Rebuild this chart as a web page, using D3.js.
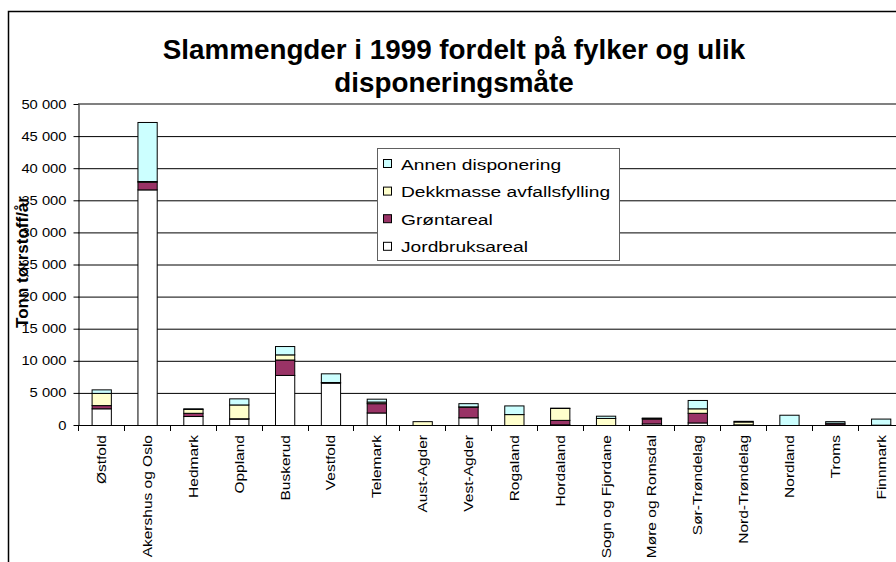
<!DOCTYPE html>
<html>
<head>
<meta charset="utf-8">
<script src="https://cdn.jsdelivr.net/npm/d3@7"></script>
<style>
  html, body { margin: 0; padding: 0; background: #fff; }
  svg { display: block; font-family: "Liberation Sans", Arial, sans-serif; }
</style>
</head>
<body>
<svg id="chart" width="896" height="562"></svg>
<script>
const categories = ["Østfold","Akershus og Oslo","Hedmark","Oppland","Buskerud","Vestfold","Telemark","Aust-Agder","Vest-Agder","Rogaland","Hordaland","Sogn og Fjordane","Møre og Romsdal","Sør-Trøndelag","Nord-Trøndelag","Nordland","Troms","Finnmark"];
const jordbruksareal = [2600,36700,1400,1000,7800,6600,1950,0,1200,0,100,0,250,400,0,0,100,0];
const grontareal     = [500,1200,500,50,2400,100,1450,0,1650,0,700,0,750,1500,100,0,250,0];
const dekkmasse      = [1900,100,600,2150,800,0,250,600,50,1700,1850,1100,100,700,450,0,0,50];
const annen          = [550,9200,100,950,1300,1350,450,0,500,1350,50,350,50,1300,100,1600,250,950];
const seriesNames = ["Jordbruksareal","Grøntareal","Dekkmasse avfallsfylling","Annen disponering"];
const seriesColors = ["#FFFFFF","#993366","#FFFFCC","#CCFFFF"];
const yTicks = [0,5000,10000,15000,20000,25000,30000,35000,40000,45000,50000];
const titleLines = ["Slammengder i 1999 fordelt på fylker og ulik","disponeringsmåte"];
const yTitle = "Tonn tørrstoff/år";

const svg = d3.select("#chart");
const seriesData = [jordbruksareal, grontareal, dekkmasse, annen];
const rows = categories.map((c, i) => {
  const r = {cat: c};
  seriesNames.forEach((s, k) => r[s] = seriesData[k][i]);
  return r;
});
const stacked = d3.stack().keys(seriesNames)(rows);

const x = d3.scaleBand().domain(categories).range([78.3, 903.6]).paddingInner(0.58).paddingOuter(0.29);
const y = d3.scaleLinear().domain([0, 50000]).range([425, 104]);

// outer chart border
svg.append("path").attr("d", "M8.5,562 V11.5 H896").attr("fill", "none").attr("stroke", "#000").attr("stroke-width", 1.5);

// gridlines
svg.append("g").selectAll("line").data(yTicks.filter(d => d > 0 && d < 50000)).join("line")
  .attr("x1", 78).attr("x2", 896).attr("y1", d => y(d) + 0.5).attr("y2", d => y(d) + 0.5)
  .attr("stroke", "#000").attr("stroke-width", 1);
// plot area top border (gray)
svg.append("line").attr("x1", 78).attr("x2", 896).attr("y1", y(50000)).attr("y2", y(50000))
  .attr("stroke", "#808080").attr("stroke-width", 2);

// bars
const gBars = svg.append("g");
stacked.forEach((layer, k) => {
  gBars.append("g").selectAll("rect").data(layer.filter(d => d[1] - d[0] > 0)).join("rect")
    .attr("x", d => x(d.data.cat) + 0.5)
    .attr("width", x.bandwidth())
    .attr("y", d => y(d[1]) + 0.5)
    .attr("height", d => y(d[0]) - y(d[1]))
    .attr("fill", seriesColors[k])
    .attr("stroke", "#000").attr("stroke-width", 1);
});

// y axis
const yAxis = d3.axisLeft(y).tickValues(yTicks).tickSize(5).tickSizeOuter(0).tickPadding(5.2)
  .tickFormat(d => d3.format(",")(d).replace(/,/g, " "));
const gy = svg.append("g").attr("transform", "translate(78.5,0)").call(yAxis);
gy.select(".domain").attr("stroke", "#000");
gy.selectAll(".tick line").attr("stroke", "#000");
gy.selectAll(".tick text").attr("font-size", 12.5).attr("fill", "#000")
  .attr("font-family", "Liberation Sans, Arial, sans-serif")
  .attr("transform", "scale(1.18,1)");

// x axis baseline + boundary ticks
const xAxis = d3.axisBottom(x).tickSize(0).tickFormat("");
const gx = svg.append("g").attr("transform", "translate(0,425.5)").call(xAxis);
gx.select(".domain").attr("d", "M78,0H896").attr("stroke", "#000");
const gap = (x.step() - x.bandwidth()) / 2;
const bounds = categories.map(c => x(c) - gap).concat([x(categories[categories.length - 1]) + x.bandwidth() + gap]);
svg.append("g").selectAll("line").data(bounds.filter(b => b <= 896)).join("line")
  .attr("x1", d => Math.round(d) + 0.5).attr("x2", d => Math.round(d) + 0.5)
  .attr("y1", 425).attr("y2", 431).attr("stroke", "#000");

// x labels
svg.append("g").selectAll("text").data(categories).join("text")
  .attr("transform", d => `translate(${x(d) + x.bandwidth() / 2 + 5},435) rotate(-90) scale(1.24,1)`)
  .attr("text-anchor", "end").attr("font-size", 12.5).attr("fill", "#000")
  .text(d => d);

// y title
svg.append("text").attr("transform", "translate(28,262) rotate(-90)")
  .attr("text-anchor", "middle").attr("font-size", 17).attr("font-weight", "bold").attr("fill", "#000")
  .text(yTitle);

// title
svg.append("g").selectAll("text").data(titleLines).join("text")
  .attr("x", 454).attr("y", (d, i) => 59 + i * 33)
  .attr("text-anchor", "middle").attr("font-size", 27.8).attr("font-weight", "bold").attr("fill", "#000")
  .text(d => d);

// legend
const lg = svg.append("g");
lg.append("rect").attr("x", 377.5).attr("y", 148.5).attr("width", 242).attr("height", 112)
  .attr("fill", "#fff").attr("stroke", "#606060").attr("stroke-width", 1);
const legendOrder = [3, 2, 1, 0];
legendOrder.forEach((k, i) => {
  const cy = 164 + i * 27.6;
  lg.append("rect").attr("x", 383.5).attr("y", cy - 4.5).attr("width", 8).attr("height", 8)
    .attr("fill", seriesColors[k]).attr("stroke", "#000").attr("stroke-width", 1);
  lg.append("text").attr("transform", `translate(401,${cy + 5.5}) scale(1.24,1)`)
    .attr("font-size", 15.5).attr("fill", "#000").text(seriesNames[k]);
});
</script>
</body>
</html>
